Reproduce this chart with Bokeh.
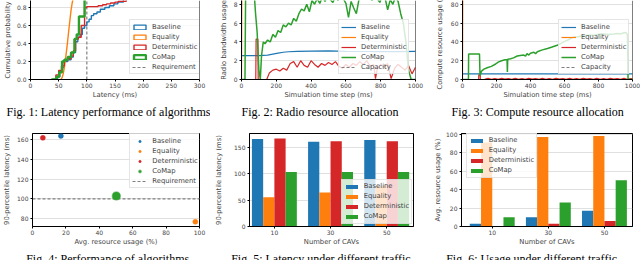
from bokeh.plotting import figure
from bokeh.layouts import column, row
from bokeh.models import (Legend, LegendItem, Title, Range1d, FixedTicker, Span,
                          NumeralTickFormatter)
from bokeh.embed import file_html
from bokeh.resources import INLINE

BLUE, ORANGE, RED, GREEN, GRAY = "#1f77b4", "#ff7f0e", "#d62728", "#2ca02c", "#808080"
SANS, SERIF = "DejaVu Sans", "Liberation Serif"
TICK_FS, LABEL_FS, LEG_FS, CAP_FS = "6px", "6.8px", "6.8px", "12px"
NAN = float("nan")

ALGOS = ["Baseline", "Equality", "Deterministic", "CoMap"]

# ---------------- Fig 1: latency CDF ----------------
lat_base_x = [40, 48, 52, 56, 60, 66, 72, 76, 80, 84, 88, 92, 96, 100, 104, 108, 112, 118, 124, 132, 140, 148, 155, 165, 180]
lat_base_y = [0, 0.03, 0.08, 0.13, 0.2, 0.22, 0.25, 0.3, 0.42, 0.47, 0.5, 0.57, 0.6, 0.64, 0.67, 0.71, 0.73, 0.75, 0.78, 0.8, 0.82, 0.84, 0.86, 0.9, 1.0]
lat_eq_x = [54, 56, 58, 60, 62, 64, 66, 68, 70, 72, 74, 76, 78, 80]
lat_eq_y = [0, 0.02, 0.06, 0.13, 0.22, 0.32, 0.43, 0.55, 0.66, 0.77, 0.85, 0.91, 0.96, 1.0]
lat_det_x = [40, 45, 50, 55, 60, 66, 72, 76, 80, 85, 90, 96, 100, 110, 120, 128, 135, 142, 150, 156, 170]
lat_det_y = [0, 0.05, 0.1, 0.15, 0.21, 0.23, 0.26, 0.32, 0.45, 0.47, 0.6, 0.8, 0.81, 0.81, 0.82, 0.83, 0.84, 0.85, 0.86, 0.87, 1.0]
lat_co_x = [37, 46, 51, 56, 60, 66, 72, 78, 82, 86, 96, 99]
lat_co_y = [0, 0.03, 0.08, 0.2, 0.22, 0.25, 0.3, 0.45, 0.5, 0.7, 0.92, 1.0]
latency_requirement = 100
lat_ticks_x = [0, 50, 100, 150, 200, 250, 300]
lat_ticks_y = [0.0, 0.2, 0.4, 0.6, 0.8, 1.0]

# ---------------- Fig 2: radio allocation ----------------
t_base2 = [0, 100, 150, 180, 210, 240, 270, 320, 400, 500, 600, 700, 800, 900, 1000]
radio_base = [2.55, 2.55, 2.6, 2.7, 2.8, 2.9, 2.95, 3.0, 3.02, 3.05, 3.0, 2.98, 2.97, 2.97, 3.0]
t_eq2 = [0, 2, 1000]
radio_eq = [0, 10, 10]
t_det2 = [0, 82, 84, 94, 96, 145, 160, 180, 200, 220, 240, 260, 280, 300, 320, 340, 360, 380, 400, 420,
          440, 460, 480, 500, 520, 540, 560, 580, 600, 620, 640, 660, 680, 700, 720, 740, 760, 770, 780, 800,
          820, 840, 850, 860, 880, 900, 920, 940, 960, 980, 1000]
radio_det = [0, 0, 4.3, 4.3, 0, 0, 0.7, 1.0, 1.1, 0.9, 1.2, 1.0, 1.7, 1.9, 1.3, 2.0, 1.5, 1.3, 2.0, 1.6,
             1.3, 1.7, 1.5, 1.8, 1.6, 1.9, 1.4, 1.2, 1.6, 1.3, 1.7, 1.5, 1.9, 1.6, 2.0, 1.4, 1.6, 0.1, 1.1, 1.6,
             1.3, 1.7, 0.9, 0.1, 1.2, 1.6, 1.3, 1.0, 1.5, 0.6, 1.3]
t_co2 = [0, 20, 24, 70, 80, 90, 100, 108, 115, 125, 135, 150, 165, 180, 195, 210, 225, 240, 255, 270,
         285, 300, 315, 330, 345, 360, 375, 390, 405, 420, 435, 450, 465, 480, 495, 510, 525, 540, 555, 570,
         585, 600, 615, 630, 645, 660, 675, 690, 705, 720, 735, 750, 765, 780, 795, 810, 825, 840, 855, 870,
         885, 900, 915, 930, 945, 960, 975, 1000]
radio_co = [0, 0, 10, 10, 7.2, 5, 1, 0, 2.5, 4, 3.8, 4.2, 4.0, 4.8, 4.5, 5.2, 5.0, 5.8, 5.6, 6.0,
            5.8, 6.5, 6.2, 7.0, 7.5, 7.3, 8.0, 7.2, 8.4, 8.0, 8.6, 8.1, 8.8, 8.3, 9.0, 8.5, 8.2, 8.8, 8.4, 9.0,
            8.6, 8.1, 6.6, 8.3, 7.6, 7.0, 8.5, 9.0, 8.6, 9.2, 8.8, 8.4, 9.0, 8.6, 8.2, 9.0, 8.7, 7.4, 8.5, 8.0,
            8.8, 8.3, 7.0, 6.0, 4.0, 1.0, 0, 0]
radio_capacity = 10
time_ticks = [0, 200, 400, 600, 800, 1000]
radio_ticks = [0, 2, 4, 6, 8]

# ---------------- Fig 3: compute allocation ----------------
t_base3 = [0, 1000]
comp_base = [6, 6]
t_eq3 = [0, 2, 1000]
comp_eq = [0, 100, 100]
t_det3 = [0, 95, 96, 104, 105, 130, 150, 170, 190, 210, 230, 250, 270, 290, 310, 330, 350, 370, 390, 410,
          430, 450, 470, 490, 510, 530, 550, 570, 590, 610, 630, 650, 670, 690, 710, 730, 750, 770, 790, 810,
          830, 850, 870, 890, 910, 930, 950, 970, 990, 1000]
comp_det = [0, 0, 5, 5, 0, 0.2, 1.2, 0.3, 1.0, 0.2, 1.3, 0.4, 1.1, 0.2, 1.2, 0.3, 1.0, 0.2, 1.3, 0.4,
            1.1, 0.2, 1.2, 0.3, 1.0, 0.2, 1.3, 0.4, 1.1, 0.2, 1.2, 0.3, 1.0, 0.2, 1.3, 0.4, 1.1, 0.2, 1.2, 0.3,
            1.0, 0.2, 1.3, 0.4, 1.1, 0.2, 1.2, 0.3, 1.0, 0.6]
t_co3 = [0, 35, 36, 100, 103, 112, 126, 145, 170, 195, 210, 230, 250, 262, 264, 266, 283, 300, 322, 340,
         360, 371, 380, 390, 400, 420, 430, 440, 470, 500, 527, 566, 595, 620, 652, 680, 710, 740, 770, 800,
         830, 860, 890, 911, 930, 945, 961, 970, 974, 1000]
comp_co = [0, 0, 27, 27, 4, 9, 11, 12.5, 14, 16.5, 18.5, 20, 21, 21, 8, 21.5, 22, 23, 25, 25.5,
           26, 25, 27.5, 26, 28, 29, 27.5, 29.5, 31.5, 33, 34.5, 37, 40, 42, 45, 45.5, 46.5, 47, 47, 48,
           48.5, 48, 48.5, 49, 48.5, 49.5, 50, 48, 0, 0]
compute_capacity = 100
compute_ticks = [0, 20, 40, 60, 80]

# ---------------- Fig 4: tradeoff scatter ----------------
avg_usage = [17.0, 97.5, 6.2, 50.2]
p90_latency = [163.7, 77.0, 161.7, 103.0]
usage_ticks = [0, 20, 40, 60, 80, 100]
p90_ticks = [80, 100, 120, 140, 160]

# ---------------- Fig 5 / 6: traffic ----------------
cavs = ["10", "30", "50"]
lat_by_cav = {
    "Baseline": [165, 160, 163],
    "Equality": [55, 64, 77],
    "Deterministic": [166, 161, 161],
    "CoMap": [103, 103, 103],
}
use_by_cav = {
    "Baseline": [3, 10, 17],
    "Equality": [91, 97, 98],
    "Deterministic": [0.6, 3, 6],
    "CoMap": [10, 26, 50],
}
COLORS = [BLUE, ORANGE, RED, GREEN]


def base_fig(w, h, xr, yr, lb, rb, tb, bb, xticks, yticks, top_cut=False, ylab_standoff=3):
    p = figure(width=w, height=h, x_range=Range1d(*xr), y_range=Range1d(*yr),
               output_backend="svg", toolbar_location=None, title=None,
               min_border_left=lb, min_border_right=rb, min_border_top=tb, min_border_bottom=bb,
               background_fill_color="white", border_fill_color="white")
    p.xaxis.ticker = FixedTicker(ticks=xticks)
    p.yaxis.ticker = FixedTicker(ticks=yticks)
    for ax in (p.xaxis[0], p.yaxis[0]):
        ax.axis_line_color = "black"
        ax.axis_line_width = 1
        ax.major_tick_line_color = "black"
        ax.major_tick_in = 0
        ax.major_tick_out = 2
        ax.minor_tick_line_color = None
        ax.major_label_text_font = SANS
        ax.major_label_text_font_size = TICK_FS
        ax.major_label_standoff = 1
        ax.axis_label_text_font = SANS
        ax.axis_label_text_font_size = LABEL_FS
        ax.axis_label_text_font_style = "normal"
    p.xaxis[0].axis_label_standoff = 0
    p.yaxis[0].major_label_standoff = 2
    p.yaxis[0].axis_label_standoff = ylab_standoff
    p.xgrid.visible = False
    p.ygrid.grid_line_color = "#b0b0b0"
    p.ygrid.grid_line_dash = "1 1"
    p.ygrid.grid_line_width = 0.8
    if top_cut:
        p.outline_line_color = None
        p.add_layout(Span(location=xr[1], dimension="height", line_color="black", line_width=1))
    else:
        p.outline_line_color = "black"
    return p


def add_legend(p, items, loc, glyph_h=6):
    leg = Legend(items=[LegendItem(label=l, renderers=[r]) for l, r in items], location=loc,
                 label_text_font=SANS, label_text_font_size=LEG_FS, label_height=9,
                 glyph_width=15, glyph_height=glyph_h, spacing=1, padding=2, margin=0,
                 label_standoff=5, border_line_color="#cccccc", border_line_width=1,
                 background_fill_color="white", background_fill_alpha=0.8)
    p.add_layout(leg)


def caption(p, text, offset):
    p.add_layout(Title(text=text, align="left", offset=offset, standoff=2,
                       text_font=SERIF, text_font_size=CAP_FS, text_font_style="normal",
                       text_color="black"), "below")


# ---- Fig 1
f1 = base_fig(210, 128, (0, 300), (0, 79 / 90), 25, 11, 0, 49, lat_ticks_x, lat_ticks_y, True, 2)
f1.yaxis.formatter = NumeralTickFormatter(format="0.0")
f1.xaxis.axis_label = "Latency (ms)"
f1.yaxis.axis_label = "Cumulative probability"
r_req = f1.line([latency_requirement, latency_requirement], [0, 1], line_color=GRAY, line_dash="3 2", line_width=1.2)
f1.step(lat_base_x, lat_base_y, mode="after", line_color=BLUE, line_width=1.4)
f1.line(lat_eq_x, lat_eq_y, line_color=ORANGE, line_width=1.4)
f1.step(lat_det_x, lat_det_y, mode="after", line_color=RED, line_width=1.4)
f1.step(lat_co_x, lat_co_y, mode="after", line_color=GREEN, line_width=2.4)
# histogram-style (outlined box) legend handles
h1 = [f1.rect(x=[NAN], y=[NAN], width=1, height=1, fill_color=None, line_color=c, line_width=lw)
      for c, lw in zip(COLORS, [1.4, 1.4, 1.4, 2.4])]
add_legend(f1, list(zip(ALGOS, h1)) + [("Requirement", r_req)], (99, 5))
caption(f1, "Fig. 1: Latency performance of algorithms", -24)

# ---- Fig 2
f2 = base_fig(215, 128, (0, 1000), (0, 79 / 9.4), 31, 10, 0, 49, time_ticks, radio_ticks, True, 3)
f2.xaxis.axis_label = "Simulation time step (ms)"
f2.yaxis.axis_label = "Radio bandwidth usage"
r_cap2 = f2.line([0, 1000], [radio_capacity, radio_capacity], line_color=GRAY, line_dash="3 2", line_width=1.2)
rb2 = f2.line(t_base2, radio_base, line_color=BLUE, line_width=1.2)
re2 = f2.line(t_eq2, radio_eq, line_color=ORANGE, line_width=1.2)
rd2 = f2.line(t_det2, radio_det, line_color=RED, line_width=1.2)
rc2 = f2.line(t_co2, radio_co, line_color=GREEN, line_width=1.5)
add_legend(f2, [("Baseline", rb2), ("Equality", re2), ("Deterministic", rd2), ("CoMap", rc2), ("Capacity", r_cap2)], (97, 5))
caption(f2, "Fig. 2: Radio resource allocation", 0)

# ---- Fig 3
f3 = base_fig(215, 128, (0, 1000), (0, 79 / 0.94), 37, 8, 0, 49, time_ticks, compute_ticks, True, 4)
f3.xaxis.axis_label = "Simulation time step (ms)"
f3.yaxis.axis_label = "Compute resource usage (%)"
r_cap3 = f3.line([0, 1000], [compute_capacity, compute_capacity], line_color=GRAY, line_dash="3 2", line_width=1.2)
rb3 = f3.line(t_base3, comp_base, line_color=BLUE, line_width=1.2)
re3 = f3.line(t_eq3, comp_eq, line_color=ORANGE, line_width=1.2)
rd3 = f3.line(t_det3, comp_det, line_color=RED, line_width=1.2)
rc3 = f3.line(t_co3, comp_co, line_color=GREEN, line_width=1.5)
add_legend(f3, [("Baseline", rb3), ("Equality", re3), ("Deterministic", rd3), ("CoMap", rc3), ("Capacity", r_cap3)], (96, 5))
caption(f3, "Fig. 3: Compute resource allocation", -11)

# ---- Fig 4
BH = 140
f4 = base_fig(210, BH, (0, 100), (72.2, 166.1), 27, 11, 5, BH - 98, usage_ticks, p90_ticks, False, 3)
f4.xaxis.axis_label = "Avg. resource usage (%)"
f4.yaxis.axis_label = "90-percentile latency (ms)"
r_req4 = f4.line([0, 100], [latency_requirement, latency_requirement], line_color=GRAY, line_dash="3 2", line_width=1.2)
h4 = []
for i, (a, c) in enumerate(zip(ALGOS, COLORS)):
    big = a == "CoMap"
    h4.append(f4.scatter([avg_usage[i]], [p90_latency[i]], size=8 if big else 5, fill_color=c, line_color=c,
                         line_alpha=0.5 if big else 1, line_width=1.5 if big else 0.5))
add_legend(f4, list(zip(ALGOS, h4)) + [("Requirement", r_req4)], (97.3, 37.7))
caption(f4, "Fig. 4: Performance of algorithms", -6.3)

# ---- Fig 5 / 6
W = 0.2
OFFS = [-1.5, -0.5, 0.5, 1.5]
xpos = [0, 1, 2]


def bar_fig(w, lb, rb, xr, yr, yticks, data, ylab, loc, ylab_standoff):
    p = base_fig(w, BH, xr, yr, lb, rb, 5, BH - 98, xpos, yticks, False, ylab_standoff)
    p.xaxis.major_label_overrides = {i: c for i, c in zip(xpos, cavs)}
    p.xaxis.axis_label = "Number of CAVs"
    p.yaxis.axis_label = ylab
    hs = []
    for a, c, o in zip(ALGOS, COLORS, OFFS):
        hs.append(p.vbar(x=[x + o * W for x in xpos], top=data[a], width=W, bottom=0,
                         fill_color=c, line_color=None))
    add_legend(p, list(zip(ALGOS, hs)), loc, glyph_h=5)
    return p


f5 = bar_fig(215, 39, 12, (-0.443, 2.477), (0, 175.5), [0, 50, 100, 150], lat_by_cav,
             "90-percentile latency (ms)", (91.7, 2.3), 8)
caption(f5, "Fig. 5: Latency under different traffic", -18.3)
f6 = bar_fig(215, 36, 8, (-0.548, 2.5), (0, 100.8), [0, 20, 40, 60, 80, 100], use_by_cav,
             "Avg. resource usage (%)", (4.7, 48.3), 1)
caption(f6, "Fig. 6: Usage under different traffic", -15.3)

layout = column(row(f1, f2, f3), row(f4, f5, f6), height=260, styles={"overflow": "hidden"})
open("out.html", "w").write(file_html(layout, INLINE))
